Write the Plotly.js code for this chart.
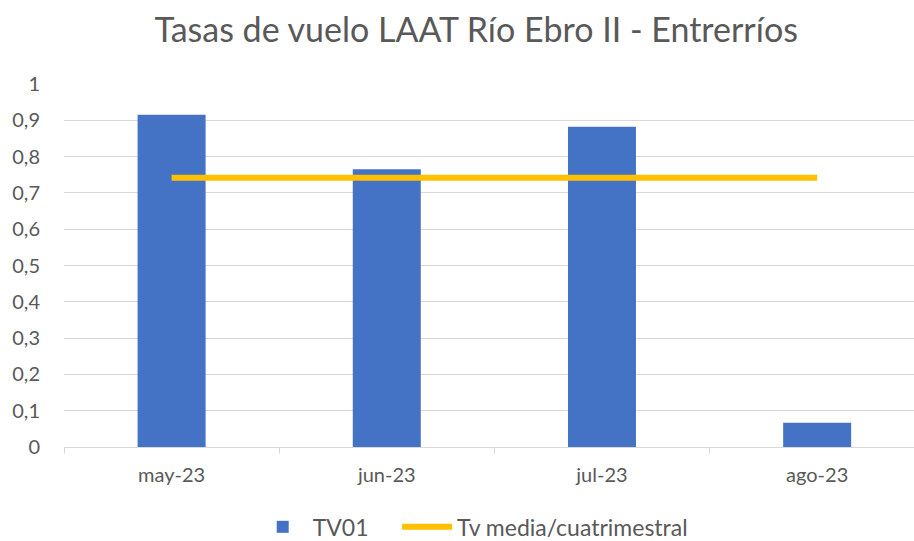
<!DOCTYPE html>
<html><head><meta charset="utf-8">
<script src="https://cdn.plot.ly/plotly-3.0.1.min.js"></script>
<style>body{margin:0;background:#fff}#c{width:914px;height:541px}</style>
</head><body><div id="c"></div>
<script>
const categories = ["may-23", "jun-23", "jul-23", "ago-23"];
const tv01 = [0.915, 0.765, 0.882, 0.067];
const tvMedia = [0.742, 0.742, 0.742, 0.742];
const yTicks = [0, 0.1, 0.2, 0.3, 0.4, 0.5, 0.6, 0.7, 0.8, 0.9, 1];

const fontFam = "Lato, 'Open Sans', sans-serif";
const grey = "#595959";
const data = [
  {type: "bar", name: "TV01&nbsp;&nbsp;&nbsp;&nbsp;", x: categories, y: tv01, width: 0.316,
   marker: {color: "#4472C4"}},
  {type: "scatter", mode: "lines", name: "Tv media/cuatrimestral", x: categories, y: tvMedia,
   line: {color: "#FFC000", width: 6}}
];
const layout = {
  width: 914, height: 541,
  margin: {l: 64, r: 0, t: 84, b: 94, autoexpand: false},
  paper_bgcolor: "#fff", plot_bgcolor: "#fff",
  separators: ",.",
  font: {family: fontFam, color: grey, size: 21},
  title: {text: "Tasas de vuelo LAAT Río Ebro II - Entrerríos", font: {size: 34, color: grey, family: fontFam},
          x: 0.521, xref: "container", xanchor: "center", y: 0.945, yref: "container", yanchor: "middle"},
  xaxis: {type: "category", range: [-0.5, 3.45], tickson: "boundaries", ticks: "outside", ticklen: 6,
          tickcolor: "#D9D9D9", showline: true, linecolor: "#D9D9D9", linewidth: 1, showgrid: false,
          ticklabelstandoff: 10, tickfont: {size: 20, color: grey}, fixedrange: true},
  yaxis: {range: [0, 1], tickvals: yTicks, showgrid: true, gridcolor: "#D9D9D9", gridwidth: 1,
          zeroline: false, showline: false, ticks: "outside", ticklen: 19, tickcolor: "rgba(0,0,0,0)",
          tickfont: {size: 20, color: grey}},
  showlegend: true,
  legend: {orientation: "h", x: 0.222, xanchor: "left", y: -0.22, yanchor: "middle",
           font: {size: 23, color: grey}, itemwidth: 50, traceorder: "normal"}
};
Plotly.newPlot("c", data, layout, {displayModeBar: false, staticPlot: true});
</script></body></html>
